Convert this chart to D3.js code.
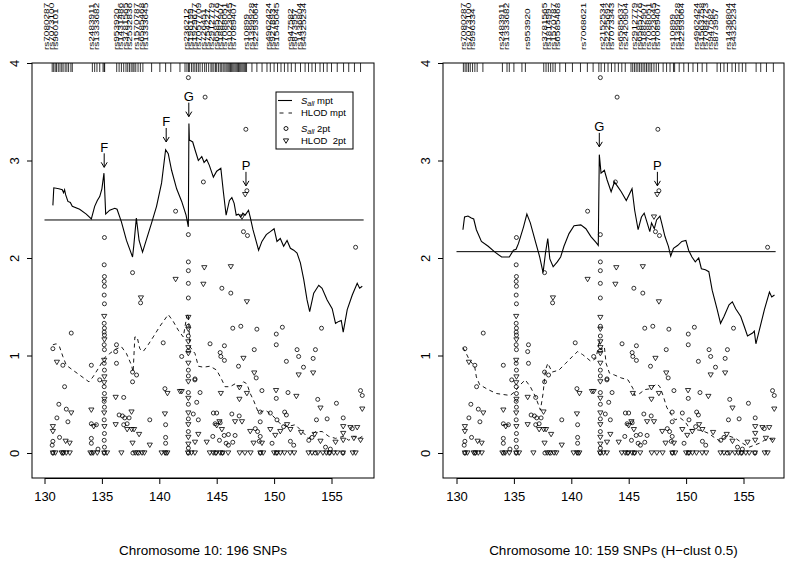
<!DOCTYPE html>
<html>
<head>
<meta charset="utf-8">
<script src="https://cdn.jsdelivr.net/npm/d3@7"></script>
<style>
  body { margin: 0; background: #fff; }
  svg { display: block; }
  text { font-family: 'Liberation Sans', Arial, sans-serif; fill: #000; }
</style>
</head>
<body>
<svg id="chart" width="792" height="561"></svg>
<script>
// ---- data (positions in Mb, scores) ----
const xTicks = [130, 135, 140, 145, 150, 155];
const yTicks = [0, 1, 2, 3, 4];

const sallMptA = [[130.73,2.54],[130.81,2.72],[131.25,2.71],[131.55,2.70],[131.66,2.67],[131.75,2.70],[131.84,2.65],[132.04,2.58],[132.25,2.57],[132.42,2.53],[133.06,2.50],[133.64,2.45],[134.08,2.40],[134.37,2.53],[134.6,2.59],[134.81,2.63],[135.0,2.71],[135.18,2.87],[135.33,2.45],[135.68,2.49],[136.12,2.51],[136.32,2.50],[136.7,2.37],[137.14,2.18],[137.67,2.01],[137.78,2.13],[138.0,2.41],[138.24,2.18],[138.54,2.06],[138.83,2.17],[139.33,2.36],[139.76,2.53],[140.2,2.77],[140.55,3.11],[140.78,3.07],[141.07,2.90],[141.51,2.71],[141.95,2.58],[142.33,2.44],[142.53,2.32],[142.58,3.38],[142.62,3.21],[142.91,3.19],[143.11,3.11],[143.4,3.0],[143.7,3.04],[143.9,2.98],[144.13,3.01],[144.36,2.95],[144.71,2.83],[145.0,2.89],[145.36,2.92],[145.58,2.68],[145.82,2.44],[146.11,2.59],[146.32,2.62],[146.52,2.56],[146.7,2.44],[146.9,2.45],[147.1,2.42],[147.28,2.46],[147.48,2.44],[147.77,2.49],[147.92,2.42],[148.16,2.29],[148.44,2.17],[148.65,2.08],[148.94,2.17],[149.32,2.24],[149.67,2.27],[150.0,2.30],[150.25,2.17],[150.54,2.20],[150.83,2.12],[151.13,2.18],[151.42,2.10],[151.71,2.08],[152.0,2.05],[152.29,1.95],[152.58,1.78],[152.87,1.57],[153.1,1.45],[153.45,1.64],[153.89,1.72],[154.18,1.69],[154.62,1.57],[155.06,1.48],[155.35,1.33],[155.64,1.35],[155.85,1.36],[156.02,1.24],[156.37,1.47],[156.81,1.62],[157.24,1.74],[157.45,1.69],[157.68,1.71]];

const hlodMptA = [[130.73,1.11],[131.02,1.12],[131.31,1.09],[131.6,0.99],[131.9,0.90],[132.47,0.85],[133.06,0.80],[133.87,0.73],[134.22,0.78],[134.81,0.89],[135.1,0.95],[135.33,0.99],[135.68,1.02],[136.12,1.06],[136.7,1.09],[137.14,1.02],[137.58,0.90],[137.72,0.83],[137.87,1.19],[138.07,1.19],[138.3,1.07],[138.59,1.04],[139.03,1.11],[139.47,1.19],[140.05,1.30],[140.78,1.42],[141.21,1.35],[141.65,1.26],[142.09,1.19],[142.39,1.40],[142.53,1.43],[142.67,1.09],[143.11,1.02],[143.4,0.89],[143.84,0.88],[144.42,0.89],[145.0,0.85],[145.45,0.75],[145.73,0.68],[146.17,0.68],[146.61,0.71],[146.98,0.68],[147.33,0.73],[147.63,0.71],[147.92,0.61],[148.21,0.54],[148.65,0.41],[149.23,0.44],[149.82,0.39],[150.54,0.30],[151.13,0.27],[151.85,0.29],[152.44,0.22],[153.02,0.15],[153.6,0.22],[154.19,0.22],[154.77,0.17],[155.35,0.15],[156.02,0.17],[156.51,0.13],[156.95,0.17],[157.39,0.15],[157.68,0.17]];

const sallMptB = [[130.56,2.29],[130.7,2.42],[131.0,2.43],[131.29,2.41],[131.5,2.40],[131.73,2.29],[132.17,2.17],[132.76,2.12],[133.35,2.06],[133.93,2.01],[134.23,2.01],[134.6,2.01],[134.96,2.08],[135.19,2.09],[135.4,2.15],[135.84,2.32],[136.13,2.45],[136.43,2.36],[136.87,2.17],[137.25,2.01],[137.54,1.85],[137.75,2.05],[137.95,2.20],[138.13,1.99],[138.42,1.91],[138.78,1.96],[139.07,2.01],[139.36,2.12],[139.8,2.25],[140.24,2.33],[140.83,2.34],[141.27,2.30],[141.71,2.22],[142.15,2.16],[142.35,2.13],[142.44,3.06],[142.59,2.87],[142.88,2.90],[143.12,2.80],[143.47,2.68],[143.76,2.78],[144.06,2.73],[144.35,2.68],[144.79,2.59],[145.29,2.71],[145.52,2.49],[145.82,2.29],[146.11,2.42],[146.35,2.46],[146.61,2.36],[146.84,2.27],[146.99,2.36],[147.23,2.30],[147.43,2.39],[147.72,2.43],[147.87,2.36],[148.16,2.22],[148.46,2.12],[148.66,2.02],[148.9,2.10],[149.28,2.13],[149.63,2.17],[149.98,2.18],[150.22,2.08],[150.51,2.01],[150.8,1.96],[151.1,2.0],[151.33,1.89],[151.68,1.88],[151.98,1.86],[152.27,1.67],[152.71,1.47],[153.0,1.33],[153.3,1.40],[153.74,1.52],[154.03,1.55],[154.32,1.48],[154.76,1.40],[155.06,1.30],[155.35,1.20],[155.79,1.23],[155.94,1.25],[156.08,1.12],[156.38,1.26],[156.82,1.47],[157.26,1.65],[157.46,1.60],[157.7,1.62]];

const hlodMptB = [[130.56,1.08],[130.85,1.02],[131.14,0.95],[131.58,0.89],[131.73,0.78],[132.02,0.70],[132.76,0.65],[133.49,0.61],[134.08,0.60],[134.67,0.59],[135.1,0.63],[135.55,0.70],[135.99,0.75],[136.43,0.68],[136.87,0.58],[137.31,0.44],[137.54,0.61],[137.75,0.85],[137.95,0.92],[138.33,0.83],[138.92,0.85],[139.51,0.92],[140.1,0.99],[140.54,1.04],[140.98,1.01],[141.71,0.94],[142.15,0.97],[142.35,1.09],[142.44,1.16],[142.59,1.06],[142.88,1.09],[143.03,0.92],[143.32,0.82],[143.76,0.80],[144.35,0.77],[144.94,0.75],[145.38,0.66],[145.52,0.59],[145.96,0.61],[146.4,0.65],[146.93,0.66],[147.43,0.71],[147.72,0.68],[148.02,0.58],[148.31,0.47],[148.6,0.41],[149.04,0.34],[149.48,0.36],[149.92,0.32],[150.36,0.24],[150.8,0.24],[151.39,0.23],[151.98,0.20],[152.56,0.15],[153.0,0.12],[153.59,0.18],[154.32,0.15],[154.91,0.10],[155.5,0.06],[155.94,0.08],[156.38,0.10],[156.82,0.13],[157.26,0.15],[157.7,0.13]];

// two-point scores (shared by both panels)
const sall2pt = [
  [135.22,2.21],[135.2,1.93],[135.22,1.81],[135.2,1.76],[135.22,1.71],[135.2,1.62],[135.22,1.53],[135.2,1.33],[135.22,1.28],[135.2,1.24],[135.22,1.21],[135.2,1.11],[135.22,1.06],[135.2,0.92],[135.22,0.85],[135.2,0.68],[135.22,0.61],[135.2,0.53],[135.22,0.47],[135.2,0.34],[135.22,0.20],[135.2,0.13],[135.22,0.06],[135.2,0],
  [142.53,3.85],[142.53,2.24],[142.53,1.96],[142.53,1.87],[142.53,1.74],[142.53,1.59],[142.53,1.30],[142.53,1.20],[142.53,1.05],[142.53,0.85],[142.53,0.79],[142.53,0.62],[142.53,0.50],[142.53,0.35],[142.53,0.22],[142.53,0.05],[142.53,0],
  [141.42,2.48],[143.99,3.65],[147.54,3.32],[143.84,2.78],[147.63,2.69],[147.33,2.27],[147.68,2.23],[157.1,2.11],
  [145.45,1.69],[146.23,1.64],[146.4,1.28],[147.1,1.30],[148.5,1.27],[150.19,1.22],[150.72,1.29],[150.19,1.11],[154.13,1.28],[144.42,1.12],[145.67,1.10],[145.3,1.03],[145.36,0.99],[145.67,0.95],[148.27,1.06],[146.9,0.89],[151.07,0.94],[152.0,1.06],[152.14,0.99],[153.6,1.06],[153.4,0.97],[152.56,0.88],[143.11,0.76],[148.44,0.77],[148.94,0.64],[150.19,0.56],[151.21,0.62],[153.8,0.55],[155.43,0.51],[157.53,0.64],[157.68,0.59],[143.55,0.62],[143.26,0.52],
  [144.71,0.41],[145.0,0.41],[146.32,0.40],[146.96,0.38],[148.79,0.42],[149.67,0.41],[150.92,0.42],[151.07,0.39],[153.69,0.34],[154.62,0.35],[156.02,0.36],[156.81,0.25],[142.96,0.40],[143.4,0.34],[144.86,0.30],[145.3,0.31],[145.65,0.18],[146.02,0.19],[146.6,0.18],[148.79,0.32],[150.25,0.34],[150.83,0.27],[153.02,0.13],[153.3,0.16],[154.48,0.06],[154.9,0.04],[151.71,0.08],[151.42,0.12],[149.82,0.10],[148.36,0.25],[148.56,0.22],[148.79,0.17],[148.71,0.12],[146.4,0.11],[146.02,0.08],[144.66,0.17],[145.24,0.13],[145.82,0.10],
  [132.33,1.23],[130.73,1.07],[131.6,0.90],[131.75,0.68],[131.25,0.50],[131.9,0.45],[132.04,0.32],[131.08,0.36],[131.31,0.16],[130.73,0.12],[130.67,0.08],[134.08,0.90],[134.08,0.30],[134.52,0.29],[134.08,0.15],[134.08,0.10],[134.66,0.04],[134.81,0.75],[136.27,1.11],[136.2,1.04],[136.27,0.92],[136.9,0.57],[136.5,0.39],[136.79,0.38],[136.99,0.36],[137.37,0.36],[137.67,0.83],[138.02,0.80],[137.67,0.73],[137.67,1.85],[138.37,1.54],[139.17,0.34],[140.34,1.13],[140.49,0.66],[140.55,0.29],[140.55,0.16],[140.55,0.10],[141.95,0.99],[143.1,0.75],[136.9,0.29],[137.2,0.30],
  [130.73,0],[131.6,0],[134.1,0],[137.7,0],[138.2,0],[140.6,0],[144.9,0],[145.5,0],[148.8,0],[150.2,0],[153.6,0],[154.8,0],[156.0,0]
];

const hlod2pt = [
  [135.2,1.40],[135.22,1.16],[135.2,0.95],[135.22,0.78],[135.2,0.72],[135.22,0.55],[135.2,0.41],[135.22,0.27],
  [142.53,1.39],[142.53,1.27],[142.53,1.14],[142.53,1.08],[142.53,1.02],[142.53,0.92],[142.53,0.73],[142.53,0.56],[142.53,0.41],[142.53,0.29],[142.53,0.16],[142.53,0.09],
  [147.48,2.65],[147.2,2.42],[143.92,1.90],[146.23,1.91],[143.84,1.73],[147.63,1.55],[147.33,0.97],[152.14,0.80],[153.4,0.82],[148.27,0.82],[146.98,0.67],[145.36,0.61],[146.98,0.55],[147.63,0.61],[150.17,0.64],[151.94,0.58],[154.04,0.46],[157.68,0.45],[141.8,0.63],
  [146.6,0.32],[147.2,0.32],[145.45,0.24],[145.24,0.32],[145.0,0.28],[147.92,0.22],[148.21,0.10],[148.94,0.10],[149.67,0.24],[150.1,0.18],[150.54,0.22],[151.13,0.29],[151.42,0.24],[152.35,0.21],[153.54,0.19],[154.04,0.12],[155.35,0.11],[156.02,0.27],[156.02,0.20],[156.02,0.13],[156.65,0.26],[157.24,0.26],[156.95,0.15],[157.53,0.13],[143.4,0.19],[144.13,0.11],[143.11,0.11],
  [131.08,0.93],[132.33,0.41],[131.84,0.12],[132.19,0.10],[130.73,0.27],[130.73,0.22],[134.08,0.44],[134.29,0.27],[136.2,0.57],[136.2,0.29],[137.58,0.42],[137.2,0.24],[137.6,0.24],[137.8,0.24],[138.24,0.19],[137.67,0.10],[138.4,1.59],[139.17,0.08],[140.49,0.40],[140.71,0.61],[141.42,1.78],[141.95,0.63],
  [130.73,0],[130.95,0],[131.5,0],[131.65,0],[131.9,0],[132.2,0],[134.0,0],[134.25,0],[134.6,0],[135.2,0],[135.45,0],[136.7,0],[137.9,0],[138.1,0],[138.5,0],[138.7,0],[140.2,0],[140.5,0],[140.7,0],[142.5,0],[142.8,0],[143.1,0],[144.4,0],[144.7,0],[144.95,0],[145.3,0],[145.5,0],[146.0,0],[147.0,0],[147.45,0],[147.95,0],[148.8,0],[149.05,0],[150.0,0],[150.25,0],[150.55,0],[150.9,0],[151.4,0],[151.75,0],[153.0,0],[153.3,0],[153.8,0],[154.25,0],[154.55,0],[154.85,0],[155.2,0],[155.5,0],[156.0,0],[156.85,0],[157.1,0]
];

// SNP positions (rug)
const rugA = [130.67,130.8,130.93,131.05,131.2,131.35,131.5,131.62,131.8,131.95,132.1,132.3,132.42,
  134.17,134.37,134.57,134.81,135.1,135.2,135.24,
  136.29,136.5,136.7,136.9,137.1,137.25,137.4,137.55,137.7,137.8,137.95,138.15,138.35,138.57,
  139.33,140.05,140.55,141.0,141.8,142.24,142.41,142.55,142.62,142.8,142.95,143.1,143.25,143.4,143.55,
  143.75,143.95,144.1,144.3,144.5,144.6,144.75,144.9,145.0,145.15,145.3,145.4,145.55,145.65,145.8,145.9,146.0,146.1,146.2,146.3,146.4,146.5,146.6,146.7,146.8,146.9,147.0,147.1,147.2,147.3,147.4,147.5,147.6,
  148.07,148.5,148.95,149.38,149.67,150.0,150.3,150.6,150.9,151.2,151.5,
  151.85,152.3,152.7,153.0,153.3,153.6,154.0,154.3,154.62,155.0,155.5,156.05,156.5,157.0,157.53];

const rugB = [130.6,130.75,130.9,131.05,131.2,131.4,131.6,131.8,132.3,
  134.0,134.4,134.6,135.0,135.7,136.0,
  137.6,137.8,138.0,138.2,138.4,138.6,
  139.0,139.5,140.1,140.8,141.4,141.9,142.4,142.6,142.9,143.2,143.5,143.8,144.1,144.4,144.7,
  145.2,145.35,145.5,145.65,145.8,145.95,146.1,146.25,146.4,146.55,146.7,146.85,147.0,147.2,147.4,147.6,
  148.0,148.3,148.6,148.9,149.0,149.4,149.8,150.2,150.6,151.0,151.4,151.8,
  152.7,153.0,153.3,153.6,154.0,154.3,154.6,154.9,155.2,156.1,156.5,157.0,157.6];

// labelled SNPs along the top
const labelsA = ['rs7080287','rs7073100','rs960101','rs2483911','rs1333682','rs953920','rs1431486','rs3781565','rs2532836','rs1570787','rs6585468','rs1333645','rs236212','rs196199','rs1929677','rs7057709','rs726451','rs754227','rs2912779','rs6585776','rs1882907','rs7088051','rs1023045','rs7089407','rs10899','rs1399928','rs2293064','rs4962424','rs927893','rs1545045','rs947582','rs873957','rs1436804','rs4325234'];
const labelPosA = [130.19,130.57,130.94,134.11,134.49,136.23,136.6,136.99,137.36,138.03,138.41,138.78,142.3,142.67,143.05,143.42,143.8,144.18,144.55,144.93,145.3,145.68,146.06,146.43,147.6,147.98,148.35,149.45,149.83,150.2,151.4,151.78,152.15,152.53];

const labelsB = ['rs7080287','rs7073100','rs996334','rs2483911','rs1333682','rs953920','rs3781565','rs181499','rs1570787','rs6585468','rs7068621','rs2152534','rs2225692','rs7073343','rs6585637','rs2420904','rs2912779','rs6585776','rs1882907','rs7088051','rs1023045','rs7089407','rs10899','rs1399928','rs2293064','rs4962424','rs1563758','rs7084723','rs947582','rs873957','rs1436804','rs4325234'];
const labelPosB = [130.6,131.0,131.4,133.9,134.3,136.2,137.6,138.0,138.4,138.8,141.0,142.7,143.1,143.5,144.3,144.7,145.5,145.9,146.3,146.7,147.1,147.5,148.8,149.2,149.6,150.9,151.3,151.7,152.1,152.5,153.7,154.1];

const arrowsA = [['F',135.2,2.93],['F',140.6,3.19],['G',142.57,3.45],['P',147.55,2.74]];
const arrowsB = [['G',142.44,3.14],['P',147.5,2.74]];

const thresholds = [2.39, 2.065];
const titles = ['Chromosome 10: 196 SNPs', 'Chromosome 10: 159 SNPs (H\u2212clust 0.5)'];

// ---- layout ----
const svg = d3.select('#chart');
const boxTop = 63, boxBottom = 478;
const y = d3.scaleLinear().domain([0, 4]).range([453, 63]);

const panels = [
  { left: 32, right: 374, x130: 44.5, sall: sallMptA, hlod: hlodMptA, rug: rugA, labels: labelsA, labelPos: labelPosA, arrows: arrowsA, thr: thresholds[0], title: titles[0], legend: true },
  { left: 443, right: 784, x130: 456.5, sall: sallMptB, hlod: hlodMptB, rug: rugB, labels: labelsB, labelPos: labelPosB, arrows: arrowsB, thr: thresholds[1], title: titles[1], legend: false },
];

const triPath = 'M-2.6,-2.1L2.6,-2.1L0,2.3Z';

panels.forEach(p => {
  const x = d3.scaleLinear().domain([130, 155]).range([p.x130, p.x130 + 287]);
  const g = svg.append('g');

  g.append('rect')
    .attr('x', p.left).attr('y', boxTop)
    .attr('width', p.right - p.left).attr('height', boxBottom - boxTop)
    .attr('fill', 'none').attr('stroke', '#000').attr('stroke-width', 1);

  // x axis
  const xa = g.append('g').attr('transform', `translate(0,${boxBottom})`)
    .call(d3.axisBottom(x).tickValues(xTicks).tickSize(6).tickSizeOuter(0).tickPadding(8));
  xa.select('.domain').attr('stroke', '#000');
  xa.selectAll('text').attr('font-size', 13).attr('font-family', "'Liberation Sans', Arial, sans-serif");

  // y axis
  const ya = g.append('g').attr('transform', `translate(${p.left},0)`)
    .call(d3.axisLeft(y).tickValues(yTicks).tickSize(5).tickSizeOuter(0).tickFormat(d3.format('d')));
  ya.select('.domain').remove();
  ya.selectAll('text')
    .attr('transform', 'rotate(-90)').attr('x', 0).attr('y', -13).attr('dy', 0)
    .attr('text-anchor', 'middle').attr('font-size', 13)
    .attr('font-family', "'Liberation Sans', Arial, sans-serif");

  // rug of SNP positions
  g.selectAll('.rug').data(p.rug).join('line')
    .attr('x1', d => x(d)).attr('x2', d => x(d))
    .attr('y1', boxTop).attr('y2', boxTop + 9)
    .attr('stroke', '#000').attr('stroke-width', 0.8);

  // SNP names
  g.selectAll('.lab').data(p.labels).join('text')
    .attr('transform', (d, i) => `translate(${x(p.labelPos[i])},50) rotate(-90) scale(1,0.78)`)
    .attr('dy', '0.36em').attr('font-size', 10)
    .text(d => d);

  // threshold
  g.append('line')
    .attr('x1', x(130)).attr('x2', x(157.8))
    .attr('y1', y(p.thr)).attr('y2', y(p.thr))
    .attr('stroke', '#000').attr('stroke-width', 1);

  // 2pt points
  g.selectAll('.s2').data(sall2pt).join('circle')
    .attr('cx', d => x(d[0])).attr('cy', d => y(d[1])).attr('r', 2)
    .attr('fill', 'none').attr('stroke', '#000').attr('stroke-width', 0.8);
  g.selectAll('.h2').data(hlod2pt).join('path')
    .attr('transform', d => `translate(${x(d[0])},${y(d[1])})`)
    .attr('d', triPath)
    .attr('fill', 'none').attr('stroke', '#000').attr('stroke-width', 0.8);

  const line = d3.line().x(d => x(d[0])).y(d => y(d[1]));
  g.append('path').datum(p.hlod).attr('d', line)
    .attr('fill', 'none').attr('stroke', '#000').attr('stroke-width', 0.9)
    .attr('stroke-dasharray', '4,3.5');
  g.append('path').datum(p.sall).attr('d', line)
    .attr('fill', 'none').attr('stroke', '#000').attr('stroke-width', 1.1);

  // peak arrows
  p.arrows.forEach(([lab, ax, ay]) => {
    const px = x(ax), py = y(ay);
    g.append('line').attr('x1', px).attr('x2', px).attr('y1', py - 14).attr('y2', py)
      .attr('stroke', '#000').attr('stroke-width', 1);
    g.append('path').attr('d', `M${px - 3},${py - 5}L${px},${py}L${px + 3},${py - 5}`)
      .attr('fill', 'none').attr('stroke', '#000').attr('stroke-width', 1);
    g.append('text').attr('x', px).attr('y', py - 15.5).attr('text-anchor', 'middle')
      .attr('font-size', 13).text(lab);
  });

  // title
  g.append('text').attr('x', (p.left + p.right) / 2).attr('y', 555)
    .attr('text-anchor', 'middle').attr('font-size', 13.5).text(p.title);

  if (p.legend) {
    const lg = g.append('g');
    lg.append('rect').attr('x', 276).attr('y', 92).attr('width', 77).attr('height', 57)
      .attr('fill', '#fff').attr('stroke', '#000').attr('stroke-width', 1);
    const rows = [100.5, 113, 128.5, 141];
    lg.append('line').attr('x1', 278).attr('x2', 292).attr('y1', rows[0]).attr('y2', rows[0])
      .attr('stroke', '#000').attr('stroke-width', 1.1);
    lg.append('line').attr('x1', 279.5).attr('x2', 292).attr('y1', rows[1]).attr('y2', rows[1])
      .attr('stroke', '#000').attr('stroke-width', 0.9).attr('stroke-dasharray', '4,5');
    lg.append('circle').attr('cx', 286).attr('cy', rows[2]).attr('r', 2)
      .attr('fill', 'none').attr('stroke', '#000').attr('stroke-width', 0.9);
    lg.append('path').attr('transform', `translate(286,${rows[3]})`).attr('d', triPath)
      .attr('fill', 'none').attr('stroke', '#000').attr('stroke-width', 0.9);

    const sallText = (yy, rest) => {
      const t = lg.append('text').attr('x', 301).attr('y', yy + 3.4).attr('font-size', 9.5);
      t.append('tspan').attr('font-style', 'italic').text('S');
      t.append('tspan').attr('font-style', 'italic').attr('font-size', 7).attr('dy', 2).text('all');
      t.append('tspan').attr('dy', -2).text(rest);
    };
    sallText(rows[0], ' mpt');
    lg.append('text').attr('x', 301).attr('y', rows[1] + 3.4).attr('font-size', 9.5).text('HLOD mpt');
    sallText(rows[2], ' 2pt');
    lg.append('text').attr('x', 301).attr('y', rows[3] + 3.4).attr('font-size', 9.5)
      .attr('xml:space', 'preserve').text('HLOD  2pt');
  }
});
</script>
</body>
</html>
